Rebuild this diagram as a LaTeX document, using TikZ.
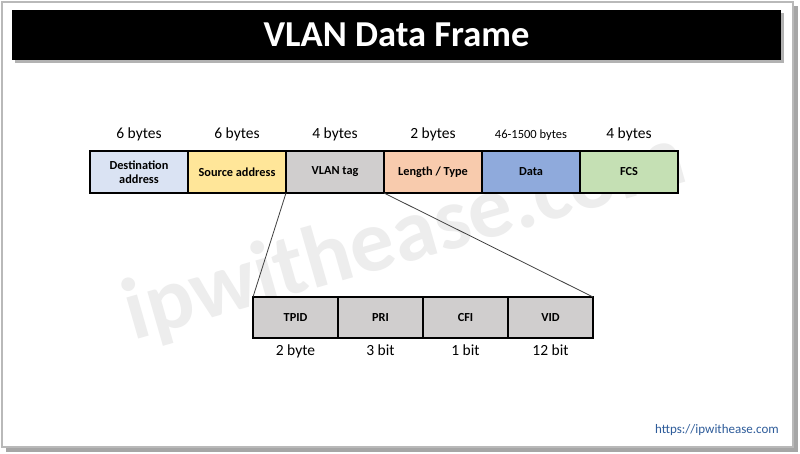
\documentclass[tikz,border=0pt]{standalone}
\usepackage{fontspec}
\setmainfont{Carlito}
\usetikzlibrary{positioning}
\definecolor{dstblue}{HTML}{DAE3F3}
\definecolor{srcyellow}{HTML}{FFE699}
\definecolor{taggray}{HTML}{D0CECE}
\definecolor{lenorange}{HTML}{F8CBAD}
\definecolor{datablue}{HTML}{8FAADC}
\definecolor{fcsgreen}{HTML}{C5E0B4}
\definecolor{urlblue}{HTML}{2E5C9A}
\tikzset{every picture/.style={
  line join=miter               % sharp box corners
  }
}

\begin{document}
\begin{tikzpicture}[x=1pt,y=1pt,
        field/.style={
          rectangle,
          draw,
          line width=1.2pt,
          minimum width=98pt,
          minimum height=42pt,
          outer sep=0pt,
          inner sep=1pt,
          align=center,
          font=\fontsize{12.3}{13.5}\selectfont\bfseries,
        },
        subfield/.style={
          field,
          fill=taggray,
          minimum width=85pt,
          minimum height=41pt,
        },
        size/.style={font=\fontsize{15.5}{17}\selectfont, inner sep=0pt},
        node distance=0pt]
      \useasboundingbox (0,0) rectangle (800,-454);
      % page frame and title bar
      \fill[gray!70] (6,-6) rectangle (798,-452);
      \fill[white,draw=gray!55,line width=1.5pt] (2,-2) rectangle (793,-447);
      \fill[gray!60] (15,-13) rectangle (784,-63);
      \node[fill=black,minimum width=769pt,minimum height=50pt,outer sep=0pt,
        text=white,font=\fontsize{36.5}{38}\selectfont\bfseries] (title)
        at (396.5,-35) {VLAN Data Frame};
      % watermark
      \node[text=black!7,rotate=16,font=\fontsize{88}{90}\selectfont\bfseries]
        (mark) at (405,-238) {ipwithease.com};
      % ethernet frame
      \node[field,fill=dstblue] (dst) at (139,-172) {Destination\\address};
      \node[field,fill=srcyellow,right=of dst] (src) {Source address};
      \node[field,fill=taggray,right=of src] (tag) {VLAN tag};
      \node[field,fill=lenorange,right=of tag] (len) {Length / Type};
      \node[field,fill=datablue,right=of len] (data) {Data};
      \node[field,fill=fcsgreen,right=of data] (fcs) {FCS};
      \node[size,above=10pt of dst] (dstsize) {6 bytes};
      \node[size,above=10pt of src] (srcsize) {6 bytes};
      \node[size,above=10pt of tag] (tagsize) {4 bytes};
      \node[size,above=10pt of len] (lensize) {2 bytes};
      \node[size,above=10pt of data,font=\fontsize{12.5}{14}\selectfont] (datasize) {46-1500 bytes};
      \node[size,above=10pt of fcs] (fcssize) {4 bytes};
      % vlan tag fields
      \node[subfield] (tpid) at (295.5,-317.5) {TPID};
      \node[subfield,right=of tpid] (pri) {PRI};
      \node[subfield,right=of pri] (cfi) {CFI};
      \node[subfield,right=of cfi] (vid) {VID};
      \node[size,below=7pt of tpid] (tpidsize) {2 byte};
      \node[size,below=7pt of pri] (prisize) {3 bit};
      \node[size,below=7pt of cfi] (cfisize) {1 bit};
      \node[size,below=7pt of vid] (vidsize) {12 bit};
      \draw[black!75,line width=0.8pt] (tag.south west) -- (tpid.north west);
      \draw[black!75,line width=0.8pt] (tag.south east) -- (vid.north east);
      \node[text=urlblue,font=\fontsize{13}{14}\selectfont] (url) at (717,-430)
        {https://ipwithease.com};
      \end{tikzpicture}
\end{document}
